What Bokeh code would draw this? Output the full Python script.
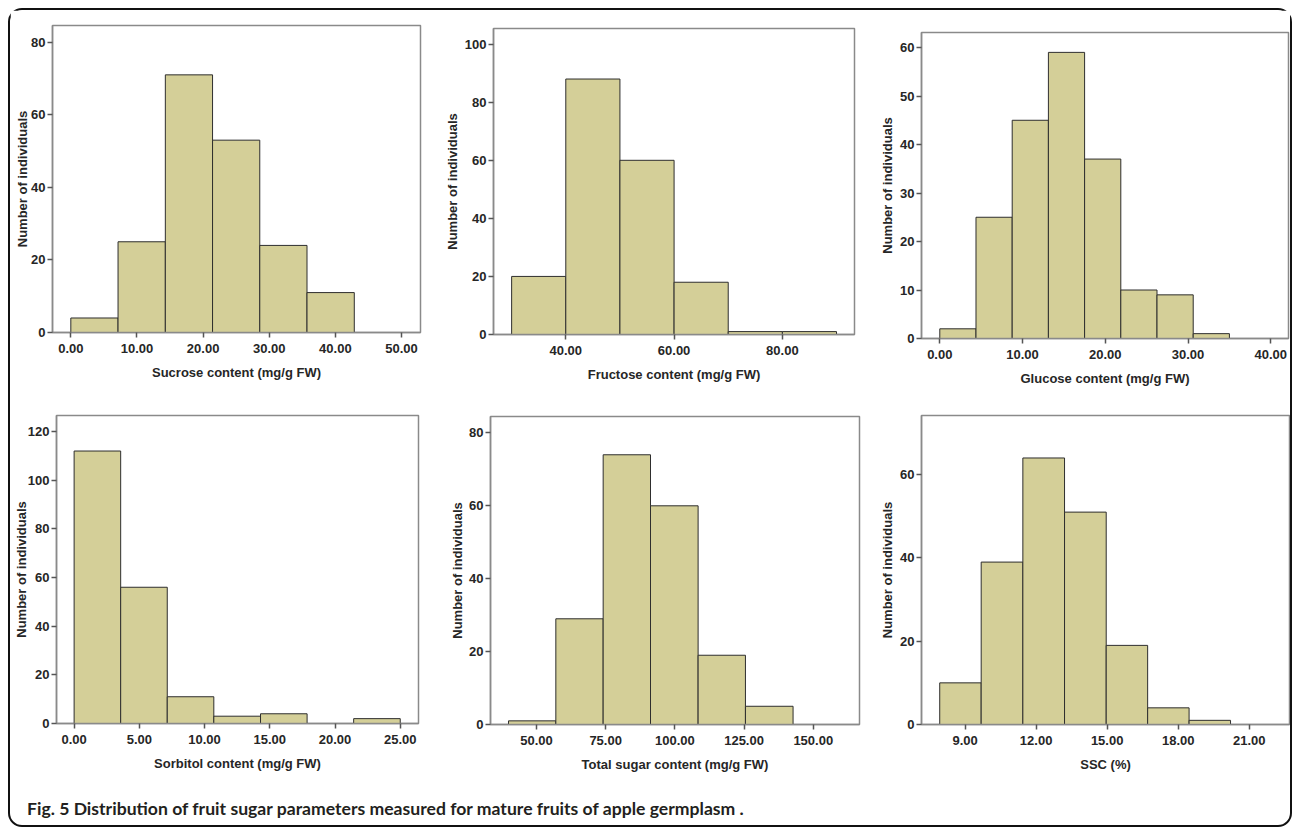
from bokeh.plotting import figure
from bokeh.layouts import row, column
from bokeh.models import FixedTicker, Range1d, Div
from bokeh.embed import file_html
from bokeh.resources import INLINE

# ---------------- data ----------------
sucrose_edges = [0.0, 7.14, 14.29, 21.43, 28.57, 35.71, 42.86]
sucrose_counts = [4, 25, 71, 53, 24, 11]

fructose_edges = [30.0, 40.0, 50.0, 60.0, 70.0, 80.0, 90.0]
fructose_counts = [20, 88, 60, 18, 1, 1]

glucose_edges = [0.0, 4.375, 8.75, 13.125, 17.5, 21.875, 26.25, 30.625, 35.0]
glucose_counts = [2, 25, 45, 59, 37, 10, 9, 1]

sorbitol_edges = [0.0, 3.57, 7.14, 10.71, 14.29, 17.86, 21.43, 25.0]
sorbitol_counts = [112, 56, 11, 3, 4, 0, 2]

total_edges = [39.9, 57.0, 74.1, 91.2, 108.4, 125.5, 142.7]
total_counts = [1, 29, 74, 60, 19, 5]

ssc_edges = [7.93, 9.68, 11.44, 13.20, 14.96, 16.71, 18.46, 20.21]
ssc_counts = [10, 39, 64, 51, 19, 4, 1]

sucrose_xticks = [0, 10, 20, 30, 40, 50]
fructose_xticks = [40, 60, 80]
glucose_xticks = [0, 10, 20, 30, 40]
sorbitol_xticks = [0, 5, 10, 15, 20, 25]
total_xticks = [50, 75, 100, 125, 150]
ssc_xticks = [9, 12, 15, 18, 21]

sucrose_yticks = [0, 20, 40, 60, 80]
fructose_yticks = [0, 20, 40, 60, 80, 100]
glucose_yticks = [0, 10, 20, 30, 40, 50, 60]
sorbitol_yticks = [0, 20, 40, 60, 80, 100, 120]
total_yticks = [0, 20, 40, 60, 80]
ssc_yticks = [0, 20, 40, 60]

x_labels = ["Sucrose content (mg/g FW)", "Fructose content (mg/g FW)",
            "Glucose content (mg/g FW)", "Sorbitol content (mg/g FW)",
            "Total sugar content (mg/g FW)", "SSC (%)"]
y_label = "Number of individuals"
caption = "Fig. 5 Distribution of fruit sugar parameters measured for mature fruits of apple germplasm ."

# ---------------- styling ----------------
BAR_FILL = "#d4cf98"
BAR_LINE = "#2e2e2e"
FRAME = "#8a8a8a"
TXT = "#262626"
FONT = "Liberation Sans"


def panel(edges, counts, xr, yr, xticks, yticks, xlabel, w, h, ml, mr, mt, mb, ylab_off):
    p = figure(width=w, height=h, x_range=Range1d(*xr), y_range=Range1d(*yr),
               toolbar_location=None, output_backend="svg", sizing_mode="fixed",
               min_border_left=ml, min_border_right=mr,
               min_border_top=mt, min_border_bottom=mb)
    lefts = [edges[i] for i in range(len(counts)) if counts[i] > 0]
    rights = [edges[i + 1] for i in range(len(counts)) if counts[i] > 0]
    tops = [c for c in counts if c > 0]
    p.quad(left=lefts, right=rights, bottom=0, top=tops,
           fill_color=BAR_FILL, line_color=BAR_LINE, line_width=1)
    p.xgrid.visible = False
    p.ygrid.visible = False
    p.outline_line_color = FRAME
    p.outline_line_width = 1.5
    p.background_fill_color = "white"
    p.border_fill_color = "white"

    xa = p.xaxis[0]
    xa.ticker = FixedTicker(ticks=xticks)
    xa.major_label_overrides = {t: f"{t:.2f}" for t in xticks}
    xa.minor_tick_line_color = None
    xa.major_tick_in = 0
    xa.major_tick_out = 5
    xa.major_label_standoff = 6
    xa.axis_label = xlabel
    xa.axis_label_standoff = 9

    ya = p.yaxis[0]
    ya.ticker = FixedTicker(ticks=yticks)
    ya.minor_tick_line_color = None
    ya.major_tick_in = 0
    ya.major_tick_out = 5
    ya.major_label_standoff = 2
    ya.axis_label = y_label
    ya.axis_label_standoff = ylab_off

    for a in (xa, ya):
        a.axis_line_color = FRAME
        a.axis_line_width = 1.5
        a.major_tick_line_color = "#555555"
        a.major_tick_line_width = 1.5
        a.major_label_text_font = FONT
        a.major_label_text_font_style = "bold"
        a.major_label_text_font_size = "13px"
        a.major_label_text_color = TXT
        a.axis_label_text_font = FONT
        a.axis_label_text_font_style = "bold"
        a.axis_label_text_font_size = "13px"
        a.axis_label_text_color = TXT
    return column(p, width=w, height=h, sizing_mode="fixed")


f1 = panel(sucrose_edges, sucrose_counts, (-2.77, 52.87), (0, 84.6), sucrose_xticks,
           sucrose_yticks, x_labels[0], 430, 385, 42, 20, 15, 63, -2)
f2 = panel(fructose_edges, fructose_counts, (26.65, 93.32), (0, 105.4), fructose_xticks,
           fructose_yticks, x_labels[1], 430, 385, 53, 16, 18, 61, 2)
f3 = panel(glucose_edges, glucose_counts, (-2.21, 42.14), (0, 63.1), glucose_xticks,
           glucose_yticks, x_labels[2], 420, 385, 51, 2, 22, 57, 2)
f4 = panel(sorbitol_edges, sorbitol_counts, (-1.35, 26.4), (0, 126.6), sorbitol_xticks,
           sorbitol_yticks, x_labels[3], 430, 390, 46, 22, 20, 62, -4)
f5 = panel(total_edges, total_counts, (33.4, 166.7), (0, 84.5), total_xticks,
           total_yticks, x_labels[4], 430, 390, 50, 11, 21, 61, 1)
f6 = panel(ssc_edges, ssc_counts, (7.16, 22.7), (0, 74.2), ssc_xticks,
           ssc_yticks, x_labels[5], 420, 390, 51, 1, 20, 61, 2)

cap = Div(text=("<div style=\"font-family:'Lato';font-weight:bold;font-size:17.6px;"
                "color:#231f20;white-space:nowrap;padding-left:12px;padding-top:6px;\">"
                + caption + "</div>"), width=1280, height=40, sizing_mode="fixed")

r1 = row(f1, f2, f3, width=1280, height=385, sizing_mode="fixed")
r2 = row(f4, f5, f6, width=1280, height=390, sizing_mode="fixed")

layout = column(r1, r2, cap, width=1280, height=815, sizing_mode="fixed",
                styles={"position": "absolute", "left": "8px", "top": "8px",
                        "border": "2px solid #111111", "border-radius": "14px",
                        "background-color": "white", "box-sizing": "content-box"})

open("out.html", "w").write(file_html(layout, INLINE))
